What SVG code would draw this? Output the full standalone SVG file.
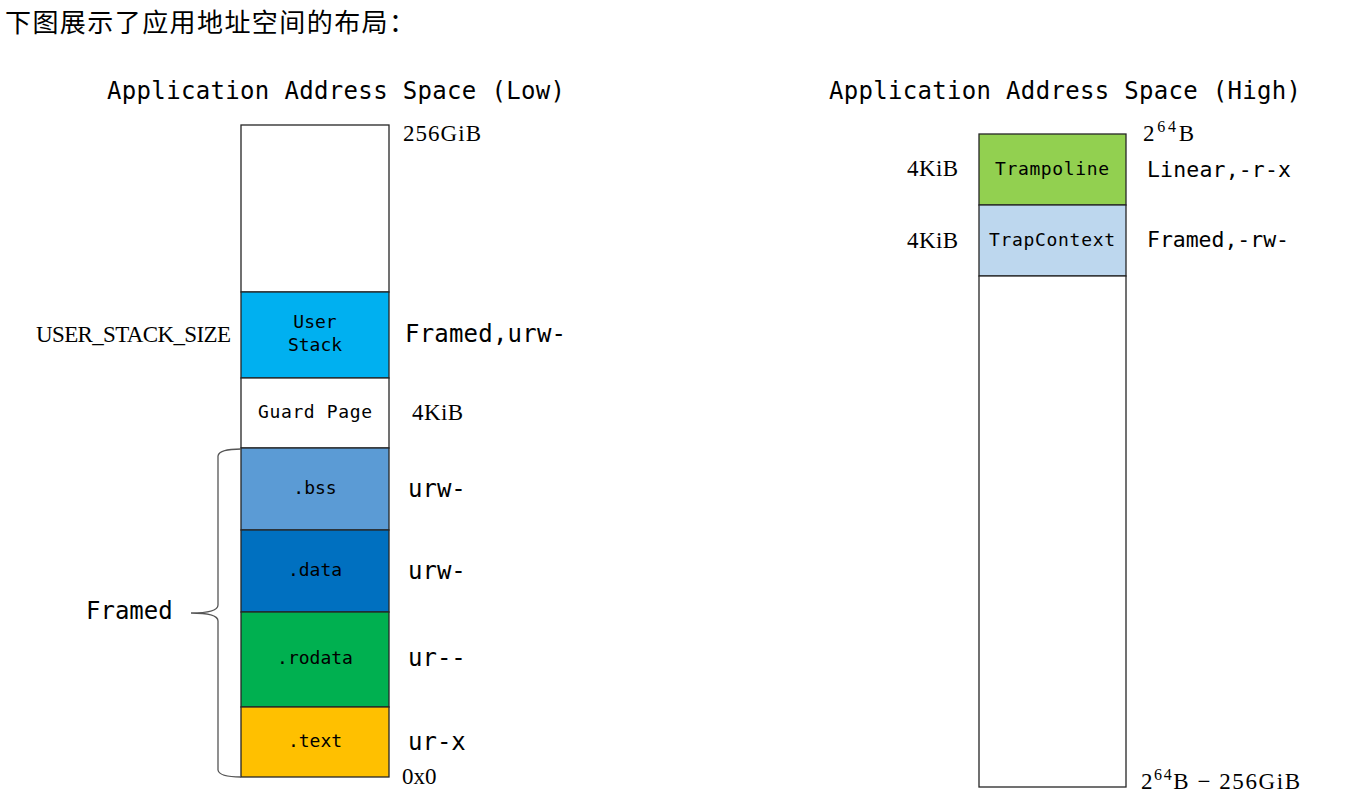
<svg xmlns="http://www.w3.org/2000/svg" width="1345" height="807" viewBox="0 0 1345 807">
<style>
.box{stroke:#262626;stroke-width:1.3}
.m{font-family:"DejaVu Sans Mono","Liberation Mono",monospace;fill:#000}
.s{font-family:"Liberation Serif","DejaVu Serif",serif;fill:#000;font-size:23px}
.c{font-family:"Noto Sans CJK SC","Noto Sans",sans-serif;fill:#000;font-size:26px}
.in{font-size:18px;text-anchor:middle}
.big{font-size:24px}
.mid{font-size:21.5px}
</style>
<rect width="1345" height="807" fill="#fff"/>
<text class="c" x="5" y="32" textLength="410">下图展示了应用地址空间的布局：</text>

<g id="low-title"><text class="m big" x="107" y="99" textLength="458">Application Address Space (Low)</text></g>
<g id="high-title"><text class="m big" x="829" y="99" textLength="472">Application Address Space (High)</text></g>

<g id="low-free"><rect class="box" x="241" y="125" width="148" height="167" fill="#fff"/><text class="s" x="403" y="141" textLength="78">256GiB</text></g>
<g id="user-stack"><rect class="box" x="241" y="292" width="148" height="86" fill="#00B0F0"/><text class="m in" x="315" y="328">User</text><text class="m in" x="315" y="351">Stack</text><text class="s" x="36" y="342" textLength="195">USER_STACK_SIZE</text><text class="m big" x="405" y="342" textLength="161">Framed,urw-</text></g>
<g id="guard-page"><rect class="box" x="241" y="378" width="148" height="70" fill="#fff"/><text class="m in" x="315" y="418" textLength="114">Guard Page</text><text class="s" x="412" y="420" textLength="51">4KiB</text></g>
<g id="bss"><rect class="box" x="241" y="448" width="148" height="82" fill="#5B9BD5"/><text class="m in" x="315" y="494">.bss</text><text class="m big" x="408" y="497">urw-</text></g>
<g id="data"><rect class="box" x="241" y="530" width="148" height="82" fill="#0070C0"/><text class="m in" x="315" y="576">.data</text><text class="m big" x="408" y="579">urw-</text></g>
<g id="rodata"><rect class="box" x="241" y="612" width="148" height="95" fill="#00B050"/><text class="m in" x="315" y="664">.rodata</text><text class="m big" x="408" y="666">ur--</text></g>
<g id="text"><rect class="box" x="241" y="707" width="148" height="70" fill="#FFC000"/><text class="m in" x="315" y="747">.text</text><text class="m big" x="408" y="750">ur-x</text><text class="s" x="402" y="784" font-size="26">0x0</text></g>

<g id="framed-brace"><path d="M241 449 Q219 449 218 456 L218 605 Q218 613 191 613 Q218 613 218 621 L218 770 Q219 777 241 777" fill="none" stroke="#555" stroke-width="1.3"/><text class="m big" x="86" y="619">Framed</text></g>

<g id="trampoline"><rect class="box" x="979" y="134" width="147" height="71" fill="#92D050"/><text class="m in" x="1052" y="175" textLength="114">Trampoline</text><text class="s" x="907" y="176" textLength="51">4KiB</text><text class="m mid" x="1147" y="177" textLength="144">Linear,-r-x</text><text class="s" x="1143" y="141" textLength="51">2<tspan dy="-9" font-size="16">64</tspan><tspan dy="9">B</tspan></text></g>
<g id="trapcontext"><rect class="box" x="979" y="205" width="147" height="71" fill="#BDD7EE"/><text class="m in" x="1052" y="246" textLength="126">TrapContext</text><text class="s" x="907" y="248" textLength="51">4KiB</text><text class="m mid" x="1147" y="247" textLength="142">Framed,-rw-</text></g>
<g id="high-free"><rect class="box" x="979" y="276" width="147" height="511" fill="#fff"/><text class="s" x="1141" y="789" textLength="159">2<tspan dy="-9" font-size="16">64</tspan><tspan dy="9">B − 256GiB</tspan></text></g>
<g id="connectors"></g>
</svg>
